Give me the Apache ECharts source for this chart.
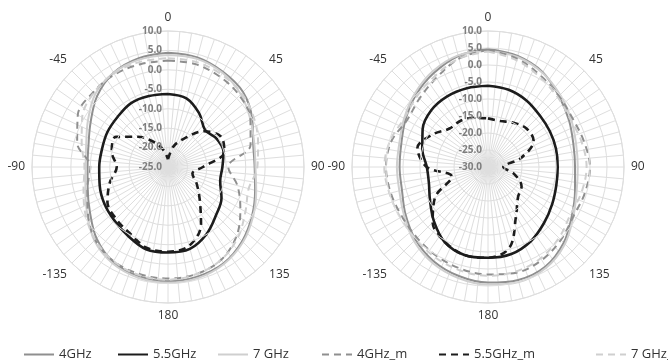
<!DOCTYPE html>
<html>
<head>
<meta charset="utf-8">
<script src="https://cdn.jsdelivr.net/npm/echarts@6/dist/echarts.min.js"></script>
<style>
  html, body { margin: 0; padding: 0; background: #fff; }
  #chart { width: 668px; height: 364px; }
</style>
</head>
<body>
<div id="chart"></div>
<script>
// Azimuth samples (degrees, clockwise from top; 195..345 are shown as -165..-15)
const angles = [0, 15, 30, 45, 60, 75, 90, 105, 120, 135, 150, 165,
                180, 195, 210, 225, 240, 255, 270, 285, 300, 315, 330, 345];

const seriesNames = ['4GHz', '5.5GHz', '7 GHz', '4GHz_m', '5.5GHz_m', '7 GHz_m'];

// Left pattern (dB)
const left4GHz   = [4.4, 4.2, 3.3, 2.3, 0.0, -2.3, -2.7, -1.8, 0.0, 2.0, 3.6, 4.2,
                    4.4, 4.1, 3.2, 1.0, -1.8, -3.6, -4.3, -3.8, -2.0, 0.8, 3.0, 4.0];
const left55GHz  = [-6.2, -6.7, -9.0, -11.5, -10.5, -10.2, -11.0, -11.1, -9.1, -7.5, -5.1, -3.2,
                    -3.0, -3.1, -4.5, -5.5, -6.1, -6.8, -7.3, -7.4, -7.0, -6.7, -6.0, -6.1];
const left7GHz   = [3.8, 3.8, 3.0, 1.5, -0.5, -2.0, -2.5, -1.5, 0.3, 2.3, 3.8, 4.6,
                    4.8, 4.5, 3.6, 1.8, -1.0, -3.0, -3.8, -3.2, -1.2, 1.5, 3.0, 3.6];
const left4GHzM  = [2.4, 2.4, 1.8, 1.0, -0.5, -3.0, -9.5, -6.5, -3.5, 0.0, 2.5, 3.5,
                    3.7, 3.5, 3.0, 1.5, -1.2, -3.5, -5.0, -0.8, 1.8, 2.2, 2.5, 2.4];
const left55GHzM = [-23.0, -19.5, -16.5, -12.0, -9.3, -10.0, -16.0, -18.5, -16.5, -13.5, -8.0, -4.0,
                    -3.2, -3.5, -5.3, -6.1, -7.0, -9.5, -11.8, -10.0, -9.5, -14.0, -17.5, -20.5];
const left7GHzM  = [3.0, 3.0, 2.5, 1.8, 0.5, -1.0, -2.0, -3.5, -2.0, 0.5, 2.5, 3.5,
                    4.0, 3.8, 3.0, 1.5, -0.5, -2.5, -3.5, -2.0, 0.5, 2.0, 2.8, 3.0];

// Right pattern (dB)
const right4GHz   = [4.8, 3.8, 2.2, -0.5, -2.5, -4.0, -4.4, -3.5, -1.5, 1.5, 3.8, 4.4,
                     4.0, 3.2, 2.0, 0.2, -2.0, -3.8, -4.0, -3.6, -2.0, 0.0, 1.9, 3.8];
const right55GHz  = [-6.1, -6.5, -7.4, -8.5, -9.0, -9.3, -9.5, -9.2, -8.2, -6.7, -4.8, -3.5,
                     -3.3, -3.2, -4.5, -7.5, -10.3, -12.0, -12.0, -10.0, -7.8, -6.4, -6.0, -6.0];
const right7GHz   = [4.2, 3.5, 2.0, 0.0, -1.8, -3.2, -3.6, -3.0, -1.0, 2.0, 4.2, 5.0,
                     4.6, 3.8, 2.6, 0.8, -1.5, -3.0, -3.2, -3.0, -1.5, 0.5, 2.5, 4.0];
const right4GHzM  = [4.5, 3.0, 1.0, -0.5, -1.3, -0.8, 0.0, -0.5, -1.0, 0.3, 1.6, 2.2,
                     1.6, 1.0, 0.2, -0.5, -0.8, -0.4, 0.0, -0.6, -2.5, -1.5, 0.3, 3.0];
const right55GHzM = [-15.7, -16.0, -15.0, -14.0, -14.5, -20.0, -25.5, -22.0, -18.6, -17.5, -13.5, -5.5,
                     -3.3, -3.2, -4.6, -7.0, -12.0, -19.0, -12.0, -8.5, -11.0, -14.0, -14.2, -15.0];
const right7GHzM  = [4.0, 2.5, 0.5, -1.0, -2.0, -1.5, -1.0, -1.5, -2.0, -0.5, 1.0, 1.8,
                     2.0, 1.5, 0.8, 0.0, -0.3, 0.0, 0.5, -0.2, -1.5, -0.5, 1.0, 3.0];

// Radial axis ranges
const leftRadius  = { min: -25, max: 10, step: 5 };
const rightRadius = { min: -30, max: 10, step: 5 };

const styles = {
  '4GHz':     { color: '#8f8f8f', width: 2,   type: 'solid' },
  '5.5GHz':   { color: '#1c1c1c', width: 2.6, type: 'solid' },
  '7 GHz':    { color: '#cfcfcf', width: 2,   type: 'solid' },
  '4GHz_m':   { color: '#8f8f8f', width: 2,   type: [7, 5] },
  '5.5GHz_m': { color: '#1c1c1c', width: 2.6, type: [7, 5] },
  '7 GHz_m':  { color: '#cfcfcf', width: 2,   type: [7, 5] }
};

function closedLoop(values) {
  const pts = values.map((v, i) => [v, angles[i]]);
  pts.push([values[0], 360]);
  return pts;
}

function makeSeries(polarIndex, valuesList) {
  return valuesList.map((vals, i) => {
    const name = seriesNames[i];
    const st = styles[name];
    return {
      name: name,
      type: 'line',
      coordinateSystem: 'polar',
      polarIndex: polarIndex,
      data: closedLoop(vals),
      smooth: 0.35,
      symbol: 'none',
      lineStyle: { color: st.color, width: st.width, type: st.type },
      itemStyle: { color: st.color },
      z: i === 1 || i === 4 ? 4 : 3,
      animation: false
    };
  });
}

const gridColor = '#dedede';

function angleAxis(polarIndex) {
  return {
    polarIndex: polarIndex,
    type: 'value',
    min: 0, max: 360, interval: 5,
    startAngle: 90,
    clockwise: true,
    axisLine: { show: true, lineStyle: { color: gridColor, width: 1 } },
    axisTick: { show: false },
    splitLine: { show: true, lineStyle: { color: gridColor, width: 1 } },
    axisLabel: {
      margin: 7,
      color: '#333333',
      fontSize: 12,
      fontFamily: 'Open Sans',
      formatter: function (v) {
        if (v % 45 !== 0 || v >= 360) return '';
        return String(v > 180 ? v - 360 : v);
      }
    }
  };
}

function radiusAxis(polarIndex, range) {
  return {
    polarIndex: polarIndex,
    type: 'value',
    min: range.min, max: range.max, interval: range.step,
    axisLine: { show: false },
    axisTick: { show: false },
    splitLine: { show: true, lineStyle: { color: gridColor, width: 1 } },
    axisLabel: {
      margin: 6,
      color: '#7e7e7e',
      fontSize: 10,
      fontWeight: 'bold',
      fontFamily: 'Open Sans',
      formatter: function (v) { return v.toFixed(1); }
    },
    z: 5
  };
}

// One legend block per series so each entry sits at its own x position
const legendLefts = [18, 112, 212, 316, 433, 590];
const legends = seriesNames.map((name, i) => ({
  data: [name],
  left: legendLefts[i],
  top: 343,
  itemWidth: 30,
  itemHeight: 12,
  itemGap: 0,
  itemStyle: { opacity: 0 },
  textStyle: { color: '#333', fontSize: 13, fontFamily: 'Open Sans' },
  selectedMode: false
}));

const chart = echarts.init(document.getElementById('chart'), null, { renderer: 'canvas' });
chart.setOption({
  animation: false,
  backgroundColor: '#ffffff',
  polar: [
    { center: [168, 167], radius: 136 },
    { center: [488, 167], radius: 136 }
  ],
  angleAxis: [angleAxis(0), angleAxis(1)],
  radiusAxis: [radiusAxis(0, leftRadius), radiusAxis(1, rightRadius)],
  legend: legends,
  series: [
    ...makeSeries(0, [left4GHz, left55GHz, left7GHz, left4GHzM, left55GHzM, left7GHzM]),
    ...makeSeries(1, [right4GHz, right55GHz, right7GHz, right4GHzM, right55GHzM, right7GHzM])
  ]
});
</script>
</body>
</html>
